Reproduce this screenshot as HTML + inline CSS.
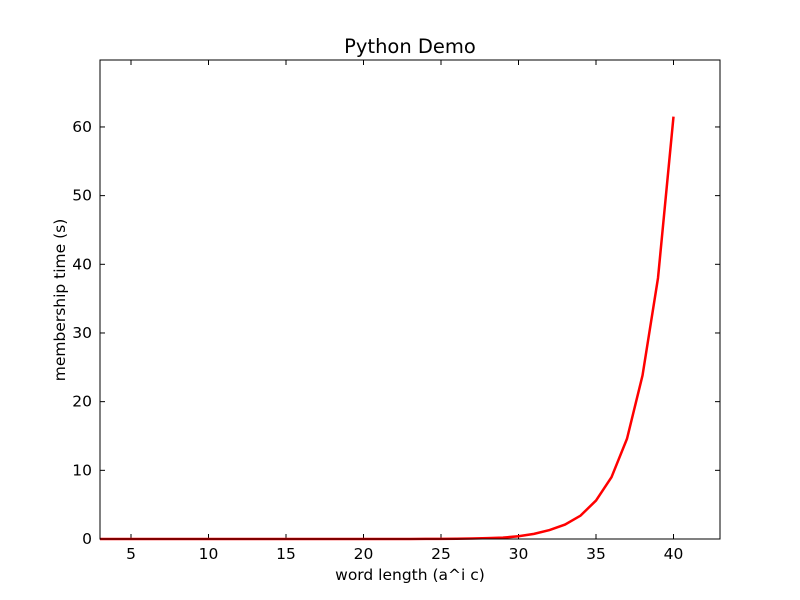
<!DOCTYPE html>
<html><head><meta charset="utf-8"><style>
html,body{margin:0;padding:0;background:#fff;}
svg{display:block;font-family:"DejaVu Sans","Liberation Sans",sans-serif;}
</style></head><body>
<svg id="chart" width="800" height="600">
<rect x="0" y="0" width="800" height="600" fill="#fff"/>
<text x="410" y="53" font-size="19.5" text-anchor="middle">Python Demo</text>
<g id="ticks"></g>
<polyline id="line" fill="none" stroke="#ff0000" stroke-width="2.5"/>
<rect x="100" y="60" width="620" height="479" fill="none" stroke="#000" stroke-width="1"/>
<text x="410" y="580" font-size="15.5" text-anchor="middle">word length (a^i c)</text>
<text x="0" y="0" font-size="15.5" text-anchor="middle" transform="translate(65,300) rotate(-90)">membership time (s)</text>
</svg>
<script>
const xValues=[3,4,5,6,7,8,9,10,11,12,13,14,15,16,17,18,19,20,21,22,23,24,25,26,27,28,29,30,31,32,33,34,35,36,37,38,39,40];
const yValues=[0,0,0,0,0,0,0,0,0,0,0,0,0,0,0,0,0,0.001,0.002,0.004,0.007,0.012,0.02,0.04,0.07,0.12,0.2,0.4,0.75,1.3,2.1,3.4,5.6,9,14.6,23.8,38,61.5];
const xTicks=[5,10,15,20,25,30,35,40];
const yTicks=[0,10,20,30,40,50,60];
const L=100,R=720,T=60,B=539,xMin=3,xMax=43,yMin=0,yMax=69.75;
const sx=v=>L+(v-xMin)/(xMax-xMin)*(R-L);
const sy=v=>B-(v-yMin)/(yMax-yMin)*(B-T);
const NS="http://www.w3.org/2000/svg";
const g=document.getElementById('ticks');
function mk(tag,attrs){const e=document.createElementNS(NS,tag);for(const k in attrs)e.setAttribute(k,attrs[k]);g.appendChild(e);return e;}
xTicks.forEach(v=>{
  const x=sx(v);
  const t1=mk('line',{x1:x,x2:x,y1:B,y2:B-5,stroke:'#000'});
  
  
  const t2=mk('line',{x1:x,x2:x,y1:T,y2:T+5,stroke:'#000'});
  
  
  const lb=mk('text',{x:x,y:B+20,'font-size':15.5,'text-anchor':'middle'});
  lb.textContent=v;
  
  
});
yTicks.forEach(v=>{
  const y=sy(v);
  const t1=mk('line',{x1:L,x2:L+5,y1:y,y2:y,stroke:'#000'});
  
  
  const t2=mk('line',{x1:R,x2:R-5,y1:y,y2:y,stroke:'#000'});
  
  
  const lb=mk('text',{x:L-8,y:y+5,'font-size':15.5,'text-anchor':'end'});
  lb.textContent=v;
  
  
});
document.getElementById('line').setAttribute('points',xValues.map((x,i)=>sx(x)+','+sy(yValues[i])).join(' '));
</script>
</body></html>
